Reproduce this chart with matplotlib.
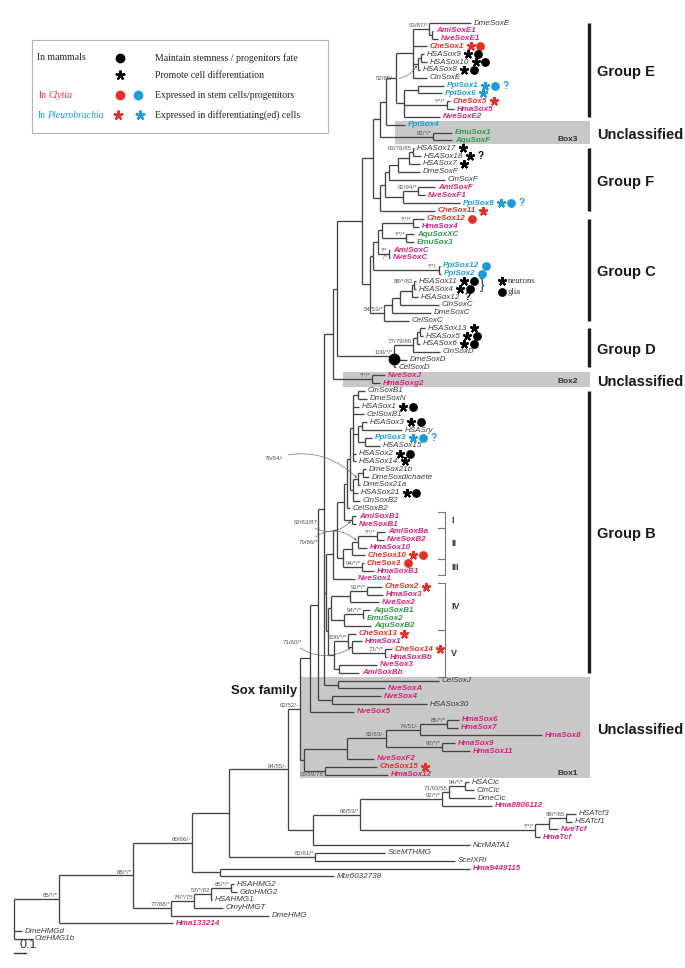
import matplotlib
matplotlib.use("Agg")
import matplotlib.pyplot as plt
from matplotlib.patches import Rectangle
from matplotlib.collections import LineCollection

plt.rcParams['font.family'] = ['Liberation Sans', 'DejaVu Sans']

# ---------------------------------------------------------------- data
leaf_names = [
    "DmeSoxE", "AmiSoxE1", "NveSoxE1", "CheSox1", "HSASox9", "HSASox10", "HSASox8", "CinSoxE", "PpiSox1", "PpiSox6",
    "CheSox5", "HmaSox5", "NveSoxE2", "PpiSox4", "EmuSox1", "AquSoxF", "HSASox17", "HSASox18", "HSASox7", "DmeSoxF",
    "CinSoxF", "AmiSoxF", "NveSoxF1", "PpiSox8", "CheSox11", "CheSox12", "HmaSox4", "AquSoxXC", "EmuSox3", "AmiSoxC",
    "NveSoxC", "PpiSox12", "PpiSox2", "HSASox11", "HSASox4", "HSASox12", "CinSoxC", "DmeSoxC", "CelSoxC", "HSASox13",
    "HSASox5", "HSASox6", "CinSoxD", "DmeSoxD", "CelSoxD", "NveSoxJ", "HmaSoxg2", "CinSoxB1", "DmeSoxN", "HSASox1",
    "CelSoxB1", "HSASox3", "HSASry", "PpiSox3", "HSASox15", "HSASox2", "HSASox14", "DmeSox21b", "DmeSoxdichaete", "DmeSox21a",
    "HSASox21", "CinSoxB2", "CelSoxB2", "AmiSoxB1", "NveSoxB1", "AmiSoxBa", "NveSoxB2", "HmaSox10", "CheSox10", "CheSox3",
    "HmaSoxB1", "NveSox1", "CheSox2", "HmaSox3", "NveSox2", "AquSoxB1", "EmuSox2", "AquSoxB2", "CheSox13", "HmaSox1",
    "CheSox14", "HmaSoxBb", "NveSox3", "AmiSoxBb", "CelSoxJ", "NveSoxA", "NveSox4", "HSASox30", "NveSox5", "HmaSox6",
    "HmaSox7", "HmaSox8", "HmaSox9", "HmaSox11", "NveSoxF2", "CheSox15", "HmaSox12", "HSACic", "CinCic", "DmeCic",
    "Hma8806112", "HSATcf3", "HSATcf1", "NveTcf", "HmaTcf", "NcrMATA1", "SceMTHMG", "SceIXRI", "Hma9449115", "Mbr6032738",
    "HSAHMG2", "GdoHMG2", "HSAHMG1", "OmyHMGT", "DmeHMG", "Hma133214", "DmeHMGd", "CteHMG1b",
]
# distance from root (substitutions / site)
leaf_depth = [
    3.808, 3.492, 3.533, 3.442, 3.417, 3.442, 3.383, 3.442, 3.583, 3.567,
    3.633, 3.667, 3.550, 3.258, 3.650, 3.650, 3.333, 3.392, 3.383, 3.383,
    3.592, 3.508, 3.425, 3.717, 3.508, 3.417, 3.375, 3.333, 3.333, 3.133,
    3.133, 3.550, 3.558, 3.350, 3.350, 3.367, 3.542, 3.475, 3.292, 3.425,
    3.408, 3.383, 3.550, 3.275, 3.183, 3.092, 3.050, 2.925, 2.942, 2.875,
    2.917, 2.942, 3.233, 2.983, 3.050, 2.850, 2.850, 2.933, 2.958, 2.883,
    2.867, 2.883, 2.800, 2.850, 2.850, 3.092, 3.083, 2.942, 2.925, 2.917,
    3.000, 2.842, 3.067, 3.075, 3.042, 2.967, 2.917, 2.975, 2.850, 2.900,
    3.150, 3.108, 3.025, 2.875, 3.542, 3.092, 3.058, 3.442, 2.833, 3.708,
    3.700, 4.400, 3.675, 3.800, 3.000, 3.025, 3.117, 3.792, 3.833, 3.842,
    3.983, 4.683, 4.650, 4.533, 4.383, 3.800, 3.092, 3.675, 3.800, 2.667,
    1.833, 1.858, 1.650, 1.742, 2.125, 1.325, 0.067, 0.150,
]

# internal nodes: (id, depth, children top->bottom, support)
nodes_E = [
    ("e1", 3.483, ["AmiSoxE1", "NveSoxE1"], ""),
    ("e2", 3.458, ["DmeSoxE", "e1"], "53/87/*"),
    ("e3", 3.392, ["HSASox9", "HSASox10"], ""),
    ("e4", 3.367, ["e3", "HSASox8"], ""),
    ("e5", 3.325, ["e2", "CheSox1", "e4", "CinSoxE"], ""),
    ("e6", 3.367, ["PpiSox1", "PpiSox6"], ""),
    ("e8", 3.608, ["CheSox5", "HmaSox5"], "*/*/*"),
    ("e9", 3.250, ["e6", "e8", "NveSoxE2"], ""),
    ("e10", 3.183, ["e5", "e9"], ""),
    ("eX", 3.100, ["e10", "PpiSox4"], ""),
    ("bx3", 3.492, ["EmuSox1", "AquSoxF"], "82/*/*"),
    ("eY", 3.050, ["eX", "bx3"], ""),
]
nodes_F = [
    ("f1", 3.325, ["HSASox17", "HSASox18"], "63/76/85"),
    ("f2", 3.292, ["f1", "HSASox7"], ""),
    ("f3", 3.200, ["f2", "DmeSoxF"], ""),
    ("f4", 3.125, ["f3", "CinSoxF"], ""),
    ("f5", 3.367, ["AmiSoxF", "NveSoxF1"], "82/94/*"),
    ("f6", 3.242, ["f5", "PpiSox8"], ""),
    ("f7", 3.092, ["f4", "f6"], ""),
    ("f8", 3.050, ["f7", "CheSox11"], ""),
    ("EF", 2.992, ["eY", "f8"], ""),
]
nodes_C = [
    ("c1", 3.325, ["CheSox12", "HmaSox4"], "*/*/*"),
    ("c2", 3.267, ["AquSoxXC", "EmuSox3"], "*/*/*"),
    ("c3", 3.067, ["c1", "c2"], ""),
    ("c4", 3.125, ["AmiSoxC", "NveSoxC"], "*/*\n/*"),
    ("c5", 3.033, ["c3", "c4"], ""),
    ("c6", 3.542, ["PpiSox12", "PpiSox2"], "*/*/-"),
    ("c7", 2.992, ["c5", "c6"], ""),
    ("cv1", 3.333, ["HSASox11", "HSASox4"], "88/*/82"),
    ("cv2", 3.317, ["cv1", "HSASox12"], ""),
    ("cv3", 3.217, ["cv2", "CinSoxC"], ""),
    ("cv4", 3.150, ["cv3", "DmeSoxC"], ""),
    ("cv5", 3.083, ["cv4", "CelSoxC"], "54/53/*"),
    ("c8", 2.967, ["c7", "cv5"], ""),
    ("EFC", 2.900, ["EF", "c8"], ""),
]
nodes_D = [
    ("d1", 3.383, ["HSASox13", "HSASox5"], ""),
    ("d2", 3.358, ["d1", "HSASox6"], ""),
    ("d3", 3.325, ["d2", "CinSoxD"], "77/79/86"),
    ("d5", 3.167, ["d3", "DmeSoxD", "CelSoxD"], "100/*/*"),
    ("CD", 2.692, ["EFC", "d5"], ""),
    ("bx2", 2.983, ["NveSoxJ", "HmaSoxg2"], "*/*/*"),
    ("Q", 2.658, ["CD", "bx2"], ""),
]
nodes_B = [
    ("b1", 2.867, ["CinSoxB1", "DmeSoxN"], ""),
    ("b2", 2.900, ["HSASox3", "HSASry"], ""),
    ("b3", 2.925, ["PpiSox3", "HSASox15"], ""),
    ("b4", 2.867, ["b2", "b3"], ""),
    ("b5", 2.825, ["b1", "HSASox1", "CelSoxB1", "b4", "HSASox2", "HSASox14"], ""),
    ("b6", 2.908, ["DmeSox21b", "DmeSoxdichaete"], ""),
    ("b7", 2.867, ["b6", "DmeSox21a"], ""),
    ("b8", 2.825, ["b7", "HSASox21", "CinSoxB2"], ""),
    ("b9", 2.800, ["b5", "b8"], ""),
    ("b10", 2.775, ["b9", "CelSoxB2"], ""),
    ("b11", 2.817, ["AmiSoxB1", "NveSoxB1"], ""),
    ("b12", 2.750, ["b10", "b11"], ""),
    ("b13", 3.025, ["AmiSoxBa", "NveSoxB2"], "*/*/*"),
    ("b14", 2.867, ["b13", "HmaSox10"], ""),
    ("b15", 2.817, ["b14", "CheSox10"], ""),
    ("b16", 2.900, ["CheSox3", "HmaSoxB1"], "94/*/*"),
    ("b17", 2.742, ["b15", "b16"], ""),
    ("b18", 2.692, ["b12", "b17"], ""),
    ("b19", 2.658, ["b18", "NveSox1"], ""),
    ("b20", 2.942, ["CheSox2", "HmaSox3"], "92/*/*"),
    ("b21", 2.800, ["b20", "NveSox2"], ""),
    ("b22", 2.908, ["AquSoxB1", "EmuSox2"], "94/*/*"),
    ("b23", 2.750, ["b22", "AquSoxB2"], ""),
    ("b24", 2.642, ["b21", "b23"], ""),
    ("b25", 3.092, ["CheSox14", "HmaSoxBb"], "71/*/*"),
    ("b26", 2.817, ["HmaSox1", "b25"], ""),
    ("b27", 2.783, ["CheSox13", "b26"], "100/*/*"),
    ("b28", 2.708, ["NveSox3", "AmiSoxBb"], ""),
    ("b29", 2.667, ["b27", "b28"], ""),
    ("b30", 2.617, ["b24", "b29"], ""),
    ("bB", 2.600, ["b19", "b30"], ""),
]
nodes_box1 = [
    ("jA", 2.700, ["CelSoxJ", "NveSoxA"], ""),
    ("P1", 2.583, ["Q", "bB", "jA"], ""),
    ("j4", 2.650, ["NveSox4", "HSASox30"], ""),
    ("P2", 2.533, ["P1", "j4"], ""),
    ("P3", 2.467, ["P2", "NveSox5"], ""),
    ("x1", 3.608, ["HmaSox6", "HmaSox7"], "85/*/*"),
    ("x2", 3.383, ["x1", "HmaSox8"], "74/51/-"),
    ("x3", 3.567, ["HmaSox9", "HmaSox11"], "92/*/*"),
    ("x4", 3.100, ["x2", "x3"], "82/63/-"),
    ("x5", 2.775, ["x4", "NveSoxF2"], ""),
    ("x6", 2.592, ["CheSox15", "HmaSox12"], "59/59/78"),
    ("x7", 2.417, ["x5", "x6"], ""),
    ("SOX", 2.383, ["P3", "x7"], "62/52/-"),
]
nodes_out = [
    ("k1", 3.758, ["HSACic", "CinCic"], "94/*/*"),
    ("k2", 3.625, ["k1", "DmeCic"], "71/93/55"),
    ("k3", 3.567, ["k2", "Hma8806112"], "92/*/*"),
    ("t1", 4.600, ["HSATcf3", "HSATcf1"], "88/*/65"),
    ("t2", 4.458, ["t1", "NveTcf"], ""),
    ("t3", 4.342, ["t2", "HmaTcf"], "*/*/*"),
    ("CT", 2.883, ["k3", "t3"], "68/53/*"),
    ("H", 2.492, ["CT", "NcrMATA1"], ""),
    ("G", 2.283, ["SOX", "H"], "84/55/-"),
    ("s1", 2.508, ["SceMTHMG", "SceIXRI"], "82/61/*"),
    ("Dn", 1.792, ["G", "s1"], ""),
    ("En", 1.717, ["Hma9449115", "Mbr6032738"], ""),
    ("Cn", 1.483, ["Dn", "En"], "80/66/-"),
    ("h1", 1.808, ["HSAHMG2", "GdoHMG2"], "85/*/*"),
    ("h2", 1.642, ["h1", "HSAHMG1"], "57/*/82"),
    ("h3", 1.500, ["h2", "OmyHMGT"], "74/*/75"),
    ("h4", 1.308, ["h3", "DmeHMG"], "77/88/*"),
    ("Bn", 0.992, ["Cn", "h4"], "88/*/*"),
    ("An", 0.375, ["Bn", "Hma133214"], "85/*/*"),
    ("root", 0.000, ["An", "DmeHMGd", "CteHMG1b"], ""),
]

# supports shown with dotted arrows
arrow_nodes = ["e4", "b7", "b11", "b14", "b26"]
arrow_labels = ["52/65/-", "76/64/-", "62/63/87", "79/86/*", "71/60/*"]

# expression symbols after names: * promote differentiation, o stemness, ? unclear
marker_leaves = ["CheSox1", "HSASox9", "HSASox10", "HSASox8", "PpiSox1", "PpiSox6", "CheSox5", "HSASox17",
                 "HSASox18", "HSASox7", "PpiSox8", "CheSox11", "CheSox12", "PpiSox12", "PpiSox2", "HSASox11",
                 "HSASox4", "HSASox12", "HSASox13", "HSASox5", "HSASox6", "HSASox1", "HSASox3", "PpiSox3",
                 "HSASox2", "HSASox14", "HSASox21", "CheSox10", "CheSox3", "CheSox2", "CheSox13", "CheSox14",
                 "CheSox15"]
marker_codes = ["*o", "*o", "*o", "*o", "*o?", "*", "*", "*",
                "*?", "*", "*o?", "*", "o", "o", "o", "*o",
                "*o", "?", "*", "*o", "*o", "*o", "*o", "*o?",
                "*o", "*", "*o", "*o", "o", "*", "*", "*",
                "*"]

side_text = ["Group E", "Unclassified", "Group F", "Group C", "Group D", "Unclassified", "Group B", "Unclassified"]
side_first = ["DmeSoxE", "PpiSox4", "HSASox17", "CheSox12", "HSASox13", "NveSoxJ", "CinSoxB1", "CelSoxJ"]
side_last = ["NveSoxE2", "AquSoxF", "CheSox11", "CelSoxC", "CelSoxD", "HmaSoxg2", "AmiSoxBb", "HmaSox12"]
side_bar = [True, False, True, True, True, False, True, False]

box_names = ["Box3", "Box2", "Box1"]
box_first = ["PpiSox4", "NveSoxJ", "CelSoxJ"]
box_last = ["AquSoxF", "HmaSoxg2", "HmaSox12"]
box_start = [3.175, 2.742, 2.383]

sub_names = ["I", "II", "III", "IV", "V"]
sub_first = ["AmiSoxB1", "AmiSoxBa", "CheSox3", "CheSox2", "CheSox13"]
sub_last = ["NveSoxB1", "CheSox10", "HmaSoxB1", "AquSoxB2", "AmiSoxBb"]

legend_rows = ["Maintain stemness / progenitors fate", "Promote cell differentiation",
               "Expressed in stem cells/progenitors", "Expressed in differentiating(ed) cells"]

# ---------------------------------------------------------------- layout
W, H = 685, 968
ROOT_PX, PX_PER_SUB = 14, 120.0
TOP_PX, ROW_PX = 23, 7.829
def dx(px): return (px - ROOT_PX) / PX_PER_SUB
def dy(py): return (py - TOP_PX) / ROW_PX
PX = 1.0 / PX_PER_SUB

C_GRAY, C_MAG, C_RED, C_BLUE, C_GREEN = '#3c3c3c', '#d4257f', '#e5302a', '#1b9bd7', '#2f9a4a'
LINE = '#444444'
SUP_BELOW = ["x6"]          # support values written under their branch

def leaf_style(n):
    if n.startswith(('Hma', 'Nve', 'Ami')):
        return C_MAG, 'bold'
    if n.startswith('Che'):
        return C_RED, 'bold'
    if n.startswith('Ppi'):
        return C_BLUE, 'bold'
    if n.startswith(('Aqu', 'Emu')):
        return C_GREEN, 'bold'
    return C_GRAY, 'normal'

def mark_color(n):
    if n.startswith('Che'):
        return C_RED
    if n.startswith('Ppi'):
        return C_BLUE
    return 'black'

fig = plt.figure(figsize=(W / 100, H / 100), dpi=100)
ax = fig.add_axes([0, 0, 1, 1])
ax.set_xlim(dx(0), dx(W))
ax.set_ylim(dy(H), dy(0))
ax.axis('off')

# ---------------------------------------------------------------- tree
depth = dict(zip(leaf_names, leaf_depth))
ypos = {n: i for i, n in enumerate(leaf_names)}
children, support = {}, {}
for grp in (nodes_E, nodes_F, nodes_C, nodes_D, nodes_B, nodes_box1, nodes_out):
    for nid, d, kids, sup in grp:
        depth[nid] = d
        children[nid] = kids
        support[nid] = sup

def get_y(n):
    if n not in ypos:
        ks = children[n]
        ys = [get_y(k) for k in ks]
        ypos[n] = (ys[0] + ys[-1]) / 2
    return ypos[n]

get_y("root")

segs = []
for nid, kids in children.items():
    x0 = depth[nid]
    ys = [ypos[k] for k in kids]
    segs.append([(x0, min(ys)), (x0, max(ys))])
    for k in kids:
        segs.append([(x0, ypos[k]), (depth[k], ypos[k])])
ax.add_collection(LineCollection(segs, colors=LINE, linewidths=0.95, zorder=2))

# boxes
for name, f, l, s in zip(box_names, box_first, box_last, box_start):
    top, bot = ypos[f] - 0.45, ypos[l] + 0.5
    ax.add_patch(Rectangle((s, top), dx(590) - s, bot - top, facecolor='#c8c8c8',
                           edgecolor='none', zorder=0))
    ax.text(dx(578), bot - 0.65, name, ha='right', va='center', fontsize=6,
            fontweight='bold', color='#333333', zorder=3)

# leaf labels
label_art = {}
for n in leaf_names:
    col, wt = leaf_style(n)
    label_art[n] = ax.text(depth[n] + 3 * PX, ypos[n], n, fontsize=5.8, fontstyle='italic',
                           fontweight=wt, color=col, va='center', ha='left', zorder=3)

# support values
for nid, sup in support.items():
    if not sup:
        continue
    if '\n' in sup:
        ax.text(depth[nid] - 2 * PX, ypos[nid], sup, fontsize=4.4, color='#555555',
                ha='right', va='center', linespacing=1.5, zorder=3)
    elif nid in SUP_BELOW:
        ax.text(depth[nid] - 1 * PX, ypos[nid] + 0.12, sup, fontsize=4.4, color='#555555',
                ha='right', va='top', zorder=3)
    else:
        ax.text(depth[nid] - 1 * PX, ypos[nid] - 0.12, sup, fontsize=4.4, color='#555555',
                ha='right', va='bottom', zorder=3)

arrow_offsets = [(-23, -14), (-74, 21), (-34, -2), (-40, -1), (-50, 5)]
arrow_rads = [0.35, -0.3, 0.45, -0.45, 0.35]
for n, lab, off, rad in zip(arrow_nodes, arrow_labels, arrow_offsets, arrow_rads):
    ax.annotate(lab, xy=(depth[n], ypos[n]), xytext=off, textcoords='offset pixels',
                ha='right', va='center', fontsize=4.4, color='#555555', zorder=3,
                arrowprops=dict(arrowstyle='-|>,head_length=0.25,head_width=0.12', ls=(0, (1.2, 1.2)),
                                lw=0.6, color='#666666', shrinkA=1, shrinkB=1,
                                connectionstyle=f'arc3,rad={rad}'))

# node dot on group D
ax.plot(depth["d5"], ypos["d5"] + 0.35, 'o', ms=7.5, color='black', zorder=4)

# group bars / labels
for txt, f, l, bar in zip(side_text, side_first, side_last, side_bar):
    y0, y1 = ypos[f], ypos[l]
    if bar:
        ax.plot([dx(589), dx(589)], [y0, y1], color='#1a1a1a', lw=2.4, solid_capstyle='butt', zorder=3)
    ax.text(dx(597), (y0 + y1) / 2 + 0.3, txt, fontsize=10.5, fontweight='bold', color='#1a1a1a',
            ha='left', va='center', zorder=3)

# roman sub-group brackets
for txt, f, l in zip(sub_names, sub_first, sub_last):
    y0, y1 = ypos[f] - 0.5, ypos[l] + 0.5
    ax.plot([dx(438), dx(445), dx(445), dx(438)], [y0, y0, y1, y1], color='#777777', lw=0.8, zorder=3)
    ax.text(dx(451), (y0 + y1) / 2, txt, fontsize=6.5, fontweight='bold', color='#333333',
            ha='left', va='center', zorder=3)

# "Sox family"
ax.text(depth["SOX"] - 3 * PX, ypos["SOX"] - 2.3, "Sox family", fontsize=9.5, fontweight='bold',
        ha='right', va='center', color='#1a1a1a', zorder=3)

# scale bar
ax.plot([0, 0.1], [dy(953), dy(953)], color='#333333', lw=1.0)
ax.text(0.05, dy(945), "0.1", fontsize=9, ha='left', va='center', color='#333333')

# neurons / glia note
ymid = (ypos["HSASox11"] + ypos["HSASox4"]) / 2
ax.text(dx(480), ymid, "}", fontsize=10, ha='left', va='center', color='#333333')
ax.plot(dx(502), ypos["HSASox11"], marker=(5, 2, 0), ms=6.3, mew=1.5, color='black')
ax.plot(dx(502), ypos["HSASox4"] + 0.3, 'o', ms=5.3, color='black')
ax.text(dx(508), ypos["HSASox11"], "neurons", family='Liberation Serif', fontsize=6.3,
        ha='left', va='center', color='#333333')
ax.text(dx(508), ypos["HSASox4"] + 0.3, "glia", family='Liberation Serif', fontsize=6.3,
        ha='left', va='center', color='#333333')

# expression symbols after labels
fig.canvas.draw()
rend = fig.canvas.get_renderer()
inv = ax.transData.inverted()
for n, code in zip(marker_leaves, marker_codes):
    bb = label_art[n].get_window_extent(rend)
    xend = inv.transform((bb.x1, bb.y0))[0]
    col = mark_color(n)
    xp = xend + 6.5 * PX
    for ch in code:
        if ch == '*':
            ax.plot(xp, ypos[n], marker=(5, 2, 0), ms=6.3, mew=1.5, color=col, zorder=4)
        elif ch == 'o':
            ax.plot(xp, ypos[n], 'o', ms=5.3, color=col, zorder=4)
        else:
            ax.text(xp - 2 * PX, ypos[n], '?', fontsize=7, fontweight='bold', color=col,
                    ha='left', va='center', zorder=4)
        xp += 9.5 * PX

# ---------------------------------------------------------------- legend (pixel overlay)
ov = fig.add_axes([0, 0, 1, 1], facecolor='none')
ov.set_xlim(0, W)
ov.set_ylim(H, 0)
ov.axis('off')
ov.add_patch(Rectangle((32, 40), 296, 93, fill=False, ec='#b5b5b5', lw=0.8))
SERIF = 'Liberation Serif'
ov.text(37, 58, "In mammals", family=SERIF, fontsize=7, va='center', color='#222222')
ov.text(39, 95, "In", family=SERIF, fontsize=7, va='center', color=C_RED)
ov.text(48, 95, "Clytia", family=SERIF, fontsize=7, fontstyle='italic', va='center', color=C_RED)
ov.text(38, 115, "In", family=SERIF, fontsize=7, va='center', color=C_BLUE)
ov.text(47, 115, "Pleurobrachia", family=SERIF, fontsize=7, fontstyle='italic', va='center', color=C_BLUE)
ov.plot(120, 58, 'o', ms=6, color='black')
ov.plot(120, 75, marker=(5, 2, 0), ms=7, mew=1.6, color='black')
ov.plot(120, 95, 'o', ms=6, color=C_RED)
ov.plot(138, 95, 'o', ms=6, color=C_BLUE)
ov.plot(118, 115, marker=(5, 2, 0), ms=7, mew=1.6, color=C_RED)
ov.plot(140, 115, marker=(5, 2, 0), ms=7, mew=1.6, color=C_BLUE)
for row, yy in zip(legend_rows, [58, 76, 96, 115]):
    ov.text(155, yy, row, family=SERIF, fontsize=7, va='center', color='#222222')

fig.savefig("out.png", dpi=100)
